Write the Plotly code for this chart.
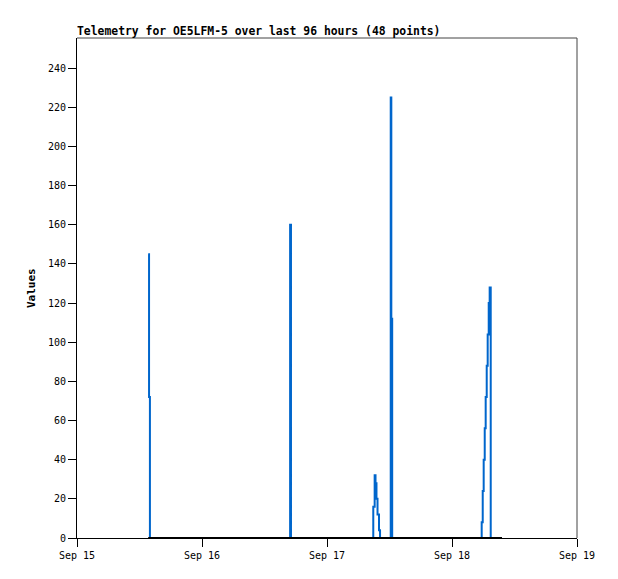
import plotly.graph_objects as go

# ---- data ----
times = [
    "2023-09-15 13:40", "2023-09-15 13:50", "2023-09-15 14:00", "2023-09-15 18:00",
    "2023-09-15 22:00", "2023-09-16 02:00", "2023-09-16 06:00", "2023-09-16 10:00",
    "2023-09-16 14:00", "2023-09-16 16:45", "2023-09-16 16:55", "2023-09-16 17:05",
    "2023-09-16 21:00", "2023-09-17 01:00", "2023-09-17 05:00", "2023-09-17 07:00",
    "2023-09-17 08:40", "2023-09-17 08:53", "2023-09-17 09:09", "2023-09-17 09:19",
    "2023-09-17 09:30", "2023-09-17 09:42", "2023-09-17 09:59", "2023-09-17 10:11",
    "2023-09-17 12:03", "2023-09-17 12:14", "2023-09-17 12:21", "2023-09-17 12:31",
    "2023-09-17 16:00", "2023-09-17 20:00", "2023-09-18 00:00", "2023-09-18 04:00",
    "2023-09-18 05:32", "2023-09-18 05:42", "2023-09-18 05:54", "2023-09-18 06:05",
    "2023-09-18 06:17", "2023-09-18 06:28", "2023-09-18 06:40", "2023-09-18 06:51",
    "2023-09-18 07:03", "2023-09-18 07:14", "2023-09-18 07:26", "2023-09-18 08:00",
    "2023-09-18 08:30", "2023-09-18 09:00", "2023-09-18 09:30", "2023-09-18 09:36",
]
values_a = [
    145, 72, 0, 0,
    0, 0, 0, 0,
    0, 0, 160, 0,
    0, 0, 0, 0,
    0, 16, 32, 28,
    20, 12, 4, 0,
    0, 225, 112, 0,
    0, 0, 0, 0,
    0, 8, 24, 40,
    56, 72, 88, 104,
    120, 128, 0, 0,
    0, 0, 0, 0,
]
values_b = [0] * len(times)

x_tick_vals = ["2023-09-15", "2023-09-16", "2023-09-17", "2023-09-18", "2023-09-19"]
x_tick_text = ["Sep 15", "Sep 16", "Sep 17", "Sep 18", "Sep 19"]
y_tick_vals = [0, 20, 40, 60, 80, 100, 120, 140, 160, 180, 200, 220, 240]

title_text = "Telemetry for OE5LFM-5 over last 96 hours (48 points)"
y_title = "Values"

FONT = "DejaVu Sans Mono"

fig = go.Figure()
fig.add_trace(go.Scatter(x=times, y=values_a, mode="lines",
                         line=dict(color="#0066CC", width=2, shape="hv"),
                         showlegend=False))
fig.add_trace(go.Scatter(x=times, y=values_b, mode="lines",
                         line=dict(color="#000000", width=2), showlegend=False))

fig.update_layout(
    width=618, height=579,
    margin=dict(l=69, r=49, t=30, b=49),
    paper_bgcolor="white", plot_bgcolor="white",
    font=dict(family=FONT, size=10, color="black"),
    showlegend=False,
)
fig.update_xaxes(
    type="date", range=["2023-09-15", "2023-09-19"],
    tickvals=x_tick_vals, ticktext=x_tick_text,
    ticks="outside", ticklen=8, tickcolor="black", tickwidth=1,
    showline=True, linecolor="black", linewidth=1,
    showgrid=False, zeroline=False,
    tickfont=dict(family=FONT, size=10, color="black"),
)
fig.update_yaxes(
    range=[0, 255.4], tickvals=y_tick_vals,
    ticks="outside", ticklen=8, tickcolor="black", tickwidth=1,
    showline=True, linecolor="black", linewidth=1,
    showgrid=False, zeroline=False,
    tickfont=dict(family=FONT, size=10, color="black"),
)
# frame top/right
fig.add_shape(type="line", xref="paper", yref="paper", x0=0, x1=1, y0=1, y1=1,
              line=dict(color="#444444", width=1))
fig.add_shape(type="line", xref="paper", yref="paper", x0=1, x1=1, y0=0, y1=1,
              line=dict(color="#444444", width=1))

fig.add_annotation(text="<b>" + title_text + "</b>", xref="paper", yref="paper",
                   x=0, y=1, xanchor="left", yanchor="bottom", yshift=-2, xshift=-2,
                   showarrow=False, font=dict(family=FONT, size=11.4, color="black"))
fig.add_annotation(text="<b>" + y_title + "</b>", xref="paper", yref="paper",
                   x=0, y=0.5, xanchor="center", yanchor="middle", xshift=-46,
                   textangle=-90, showarrow=False,
                   font=dict(family=FONT, size=11, color="black"))

fig.write_html("out.html")
